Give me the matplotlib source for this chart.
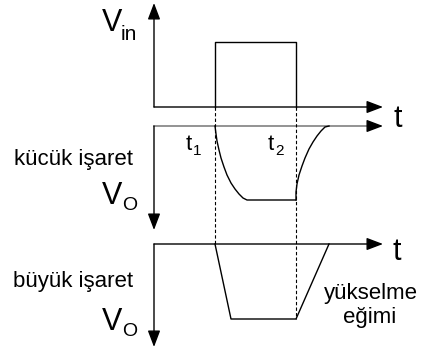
import matplotlib
matplotlib.use('Agg')
import matplotlib.pyplot as plt

plt.rcParams['font.family'] = ['Liberation Sans', 'DejaVu Sans']

# horizontal positions (time) of the sketch
t_origin = 154
t_on = 215
t_off = 296
t_axis_end = 383

# zero lines of the three traces
vin_zero = 107
small_zero = 126
large_zero = 244

vin_high = 42
vin_axis_top = 3
small_axis_bottom = 230
large_axis_bottom = 347

# small signal response
small_fall_t = [215, 216, 217, 219, 221, 224, 227, 231, 235, 239, 243, 247, 296]
small_fall_v = [126, 134, 141, 150, 158, 167, 175, 183, 189, 194, 198, 200, 200]
small_rise_t = [296, 296, 297, 299, 302, 305, 309, 313, 317, 321, 325, 329]
small_rise_v = [200, 192, 184, 175, 166, 158, 149, 142, 136, 131, 127, 126]

# large signal response (slew rate limited)
large_t = [215, 231, 296, 329]
large_v = [244, 319, 319, 244]

fig = plt.figure(figsize=(4.21, 3.54), dpi=100, facecolor='white')
ax = fig.add_axes([0, 0, 1, 1])
ax.set_xlim(0, 421)
ax.set_ylim(354, 0)
ax.axis('off')

HEAD = '-|>,head_length=1.0,head_width=0.38'


def arrow(x0, y0, x1, y1):
    """axis line ending in a filled arrow head"""
    ax.annotate('', xy=(x1, y1), xytext=(x0, y0),
                arrowprops=dict(arrowstyle=HEAD, color='black', lw=1.0,
                                shrinkA=0, shrinkB=0))


# input axes and pulse
arrow(t_origin, vin_zero, t_origin, vin_axis_top)
arrow(t_origin, vin_zero, t_axis_end, vin_zero)
ax.plot([t_on, t_on, t_off, t_off], [vin_zero, vin_high, vin_high, vin_zero],
        color='black', lw=1.0)

# small signal axes (time axis drawn in grey)
arrow(t_origin, small_zero, t_origin, small_axis_bottom)
ax.plot([t_origin, t_axis_end - 10], [small_zero, small_zero],
        color='#808080', lw=1.2)
arrow(t_axis_end - 12, small_zero, t_axis_end, small_zero)
ax.plot(small_fall_t, small_fall_v, color='black', lw=1.0)
ax.plot(small_rise_t, small_rise_v, color='black', lw=1.0)

# large signal axes and trapezoid
arrow(t_origin, large_zero, t_origin, large_axis_bottom)
arrow(t_origin, large_zero, t_axis_end, large_zero)
ax.plot(large_t, large_v, color='black', lw=1.0)

# dashed markers of the switching instants
ax.plot([t_on, t_on], [vin_zero, large_zero], color='black', lw=0.8,
        dashes=(3, 2))
ax.plot([t_off, t_off], [vin_zero, large_v[2]], color='black', lw=0.8,
        dashes=(3, 2))

# labels
big = 22
ax.text(112, 23, 'V', fontsize=big, ha='center', va='center')
ax.text(129, 34, 'in', fontsize=15, ha='center', va='center')
ax.text(112, 196, 'V', fontsize=big, ha='center', va='center')
ax.text(130, 206, 'O', fontsize=14, ha='center', va='center')
ax.text(112, 322, 'V', fontsize=big, ha='center', va='center')
ax.text(130, 331, 'O', fontsize=14, ha='center', va='center')

ax.text(398, 119, 't', fontsize=big, ha='center', va='center')
ax.text(397, 252, 't', fontsize=big, ha='center', va='center')

ax.text(189, 145, 't', fontsize=16, ha='center', va='center')
ax.text(197, 151, '1', fontsize=11, ha='center', va='center')
ax.text(271, 145, 't', fontsize=16, ha='center', va='center')
ax.text(279, 151, '2', fontsize=11, ha='center', va='center')

ax.text(73, 160, 'kücük işaret', fontsize=16, ha='center', va='center')
ax.text(73, 281, 'büyük işaret', fontsize=16, ha='center', va='center')
ax.text(371, 293, 'yükselme', fontsize=16, ha='center', va='center')
ax.text(370, 318, 'eğimi', fontsize=16, ha='center', va='center')

fig.savefig('out.png', dpi=100, facecolor='white')
